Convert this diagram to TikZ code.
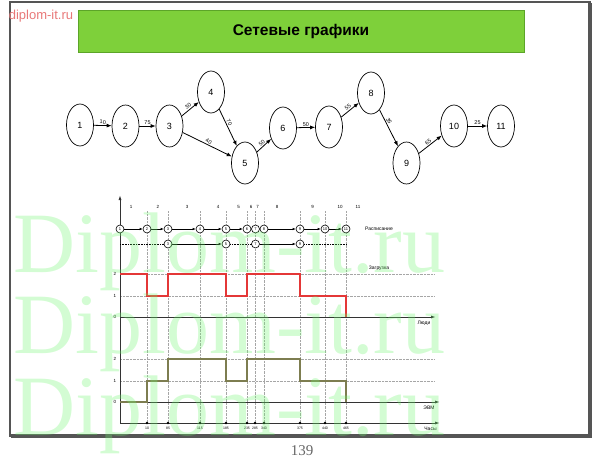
\documentclass[tikz,border=0pt]{standalone}
\usepackage{fontspec}
\setmainfont{Liberation Sans}
\newfontfamily\wmfont{Liberation Serif}
\usetikzlibrary{shapes.geometric,arrows.meta}
\definecolor{titlegreen}{RGB}{126,208,58}
\definecolor{titleedge}{RGB}{92,165,40}
\definecolor{framegray}{RGB}{85,85,85}
\definecolor{loadred}{RGB}{228,55,55}
\definecolor{evmolive}{RGB}{125,125,80}
\definecolor{wmgreen}{RGB}{110,245,110}
\definecolor{sitered}{RGB}{232,120,120}
\tikzset{
  event/.style={ellipse,draw,line width=0.7pt,minimum width=27pt,minimum height=42pt,inner sep=0pt,font=\fontsize{9}{9}\selectfont},
  work/.style={-{Latex[length=5pt,width=4pt]},line width=0.8pt},
  dur/.style={font=\fontsize{5.5}{5.5}\selectfont,sloped,above,inner sep=1pt},
  slot/.style={circle,draw,line width=0.6pt,minimum size=8pt,inner sep=0pt,fill=white,font=\fontsize{4}{4}\selectfont},
  hop/.style={-{Latex[length=3pt,width=2.5pt]},line width=0.7pt},
  tiny/.style={font=\fontsize{4.5}{4.5}\selectfont,inner sep=0pt},
  gridline/.style={densely dotted,gray!70,line width=0.4pt},
  axis/.style={-{Latex[length=5pt,width=3pt]},line width=0.9pt,black!80},
}
\begin{document}
\begin{tikzpicture}[x=1pt,y=-1pt]
	\useasboundingbox (0,0) rectangle (611,460);
	% slide frame and title
	\draw[framegray,line width=2pt] (10,2) rectangle (590,436);
	\draw[framegray,line width=3.2pt] (590,3) -- (590,436) -- (11,436);
	\node[draw=titleedge,fill=titlegreen,minimum width=446pt,minimum height=42pt,inner sep=0pt] (title) at (301,31) {};
	\node[font=\bfseries\fontsize{15.5}{15.5}\selectfont] (titletext) at (title) {Сетевые графики};
	\node[sitered,font=\fontsize{13}{13}\selectfont,inner sep=0pt] (site) at (41,16) {diplom-it.ru};
	% network
	\node[event] (n1) at (80,125) {1};
	\node[event] (n2) at (125.5,126) {2};
	\node[event] (n3) at (169.5,126) {3};
	\node[event] (n4) at (211,92) {4};
	\node[event] (n5) at (245,163) {5};
	\node[event] (n6) at (283,128) {6};
	\node[event] (n7) at (329,127) {7};
	\node[event] (n8) at (371,93) {8};
	\node[event] (n9) at (406.5,163) {9};
	\node[event] (n10) at (454,126) {10};
	\node[event] (n11) at (501,126) {11};
	\draw[work] (n1) -- node[dur] {10} (n2);
	\draw[work] (n2) -- node[dur] {75} (n3);
	\draw[work] (n3) -- node[dur] {30} (n4);
	\draw[work] (n4) -- node[dur,pos=0.4] {70} (n5);
	\draw[work] (n3) -- node[dur] {40} (n5);
	\draw[work] (n5) -- node[dur] {50} (n6);
	\draw[work] (n6) -- node[dur] {50} (n7);
	\draw[work] (n7) -- node[dur] {55} (n8);
	\draw[work] (n8) -- node[dur,pos=0.35] {35} (n9);
	\draw[work] (n9) -- node[dur] {65} (n10);
	\draw[work] (n10) -- node[dur] {25} (n11);
	% schedule axes
	\coordinate (orig) at (120,423);
	\coordinate (top) at (120,195);
	\foreach \t in {147,168,200,226,247,255,264,300,325,346}
		\draw[gridline] (\t,211) -- (\t,423);
	\foreach \y in {274,296,359,381}
		\draw[gridline] (120,\y) -- (434,\y);
	\draw[axis] (orig) -- (top);
	\foreach \x/\k in {131/1,158/2,187/3,218/4,238.5/5,251/6,257.5/7,277/8,312.5/9,340/10,358/11}
		\node[tiny] (ph\k) at (\x,207) {\k};
	% schedule rows
	\node[slot] (r1) at (120,229) {1};
	\node[slot] (r2) at (147,229) {2};
	\node[slot] (r3) at (168,229) {3};
	\node[slot] (r4) at (200,229) {4};
	\node[slot] (r5) at (226,229) {5};
	\node[slot] (r6) at (247,229) {6};
	\node[slot] (r7) at (255.5,229) {7};
	\node[slot] (r8) at (264,229) {8};
	\node[slot] (r9) at (300,229) {9};
	\node[slot] (r10) at (325,229) {10};
	\node[slot] (r11) at (346,229) {11};
	\draw[hop] (r1) -- (r2);
	\draw[hop] (r2) -- (r3);
	\draw[hop] (r3) -- (r4);
	\draw[hop] (r4) -- (r5);
	\draw[hop] (r5) -- (r6);
	\draw[hop] (r8) -- (r9);
	\draw[hop] (r9) -- (r10);
	\draw[hop,line width=0.5pt] (r10) -- (r11);
	\coordinate (s0) at (120,244);
	\coordinate (s1) at (346,244);
	\node[slot] (q3) at (168,244) {3};
	\node[slot] (q5) at (226,244) {5};
	\node[slot] (q7) at (255.5,244) {7};
	\node[slot] (q9) at (300,244) {9};
	\draw[densely dotted,line width=0.6pt] (s0) -- (q3);
	\draw[hop] (q3) -- (q5);
	\draw[densely dotted,line width=0.6pt] (q5) -- (q7);
	\draw[hop] (q7) -- (q9);
	\draw[densely dotted,line width=0.6pt] (q9) -- (s1);
	\node[tiny,font=\fontsize{5}{5}\selectfont] (plan) at (379,229) {Расписание};
	\node[tiny,font=\fontsize{5}{5}\selectfont] (load) at (379,268) {Загрузка};
	% people load
	\foreach \y/\v in {274/2,296/1,317/0}
		\node[tiny] (p\v) at (115,\y) {\v};
	\draw[axis] (120,317) coordinate (pa) -- (436,317) coordinate (pb);
	\node[tiny,font=\fontsize{5}{5}\selectfont] (people) at (424,323) {Люди};
	\draw[loadred,line width=1.1pt] (120,274) -| (147,296) -| (168,274) -| (226,296) -| (247,274) -| (300,296) -| (346,317);
	% computer load
	\foreach \y/\v in {359/2,381/1,402/0}
		\node[tiny] (c\v) at (115,\y) {\v};
	\draw[axis] (120,402) coordinate (ca) -- (440,402) coordinate (cb);
	\node[tiny,font=\fontsize{5}{5}\selectfont] (evm) at (429,408) {ЭВМ};
	\draw[evmolive,line width=1.1pt] (120,402) -| (147,381) -| (168,359) -| (226,381) -| (247,359) -| (300,381) -| (346,402);
	% time axis
	\draw[axis] (orig) -- (440,423) coordinate (tend);
	\node[tiny,font=\fontsize{5}{5}\selectfont] (hours) at (430.5,429) {Часы};
	\foreach \x/\h in {147/10,168/85,200/115,226/185,247/235,255/285,264/340,300/375,325/440,346/465}{
		\fill (\x,423) circle (1.3pt);
		\node[tiny,font=\fontsize{3.5}{3.5}\selectfont] (h\h) at (\x,428) {\h};
	}
	% page number and watermark
	\node[font=\wmfont\fontsize{15}{15}\selectfont,black!60] (page) at (302,451) {139};
	\foreach \yb in {272,353,435}
		\node[anchor=base west,inner sep=0pt,wmgreen,text opacity=0.3,font=\wmfont\fontsize{86}{86}\selectfont] at (13,\yb) {Diplom-it.ru};
\end{tikzpicture}
\end{document}
